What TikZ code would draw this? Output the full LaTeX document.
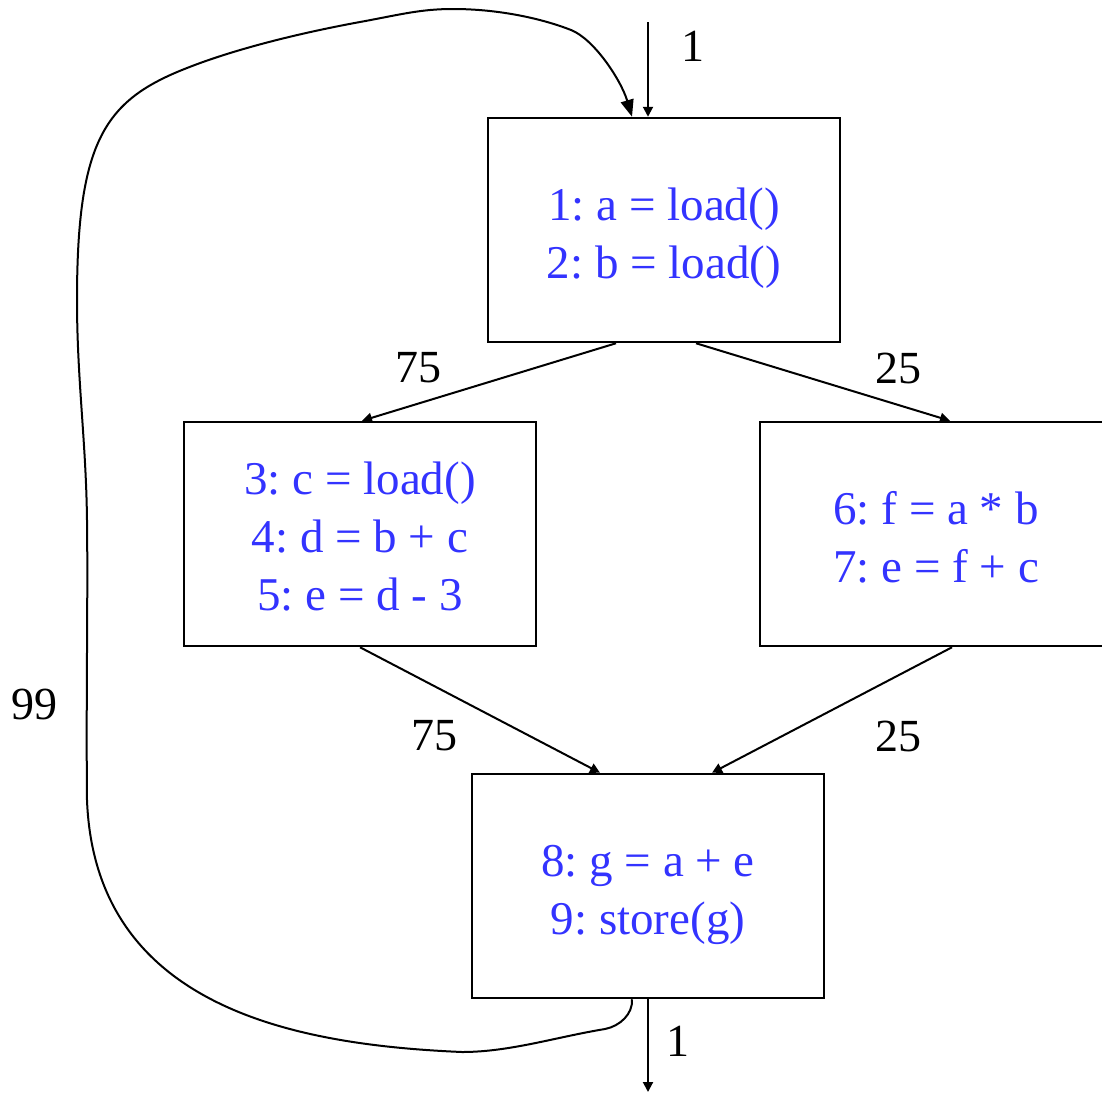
\documentclass[tikz,border=0pt]{standalone}
\usepackage{fontspec}
\setmainfont{Liberation Serif}
\usetikzlibrary{arrows.meta}
\definecolor{codeblue}{RGB}{51,51,255}
\frenchspacing
\begin{document}
\begin{tikzpicture}[x=1pt,y=-1pt,
  blk/.style={draw=black, line width=2.5pt, minimum width=352pt, minimum height=224pt,
    inner sep=0pt},
  code/.style={align=center, text=codeblue, inner sep=0pt,
    font=\fontsize{47}{58}\selectfont},
  lbl/.style={font=\fontsize{46}{50}\selectfont, inner sep=0pt},
  edge/.style={line width=2pt, -{Triangle[length=10pt,width=10pt]}},
  loopedge/.style={line width=2pt, -{Triangle[length=17pt,width=13pt]}}]
\useasboundingbox (0,0) rectangle (1102,1093);
\clip (0,0) rectangle (1102,1093);

\node[blk] (top) at (664,230) {};
\node[blk] (left) at (360,534) {};
\node[blk] (right) at (936,534) {};
\node[blk] (bot) at (648,886) {};

\node[code] (toptext) at ([yshift=-8pt]top.center) {1: a = load()\\2: b = load()};
\node[code] (lefttext) at ([yshift=-3pt]left.center) {3: c = load()\\4: d = b + c\\5: e = d - 3};
\node[code] (righttext) at ([yshift=-3pt]right.center) {6: f = a * b\\7: e = f + c};
\node[code] (bottext) at ([yshift=-9pt]bot.center) {8: g = a + e\\9: store(g)};

\coordinate (entry) at (648,22);
\coordinate (exit) at (648,1092);

\draw[edge] (entry) -- ([xshift=-16pt]top.north);
\draw[edge] ([xshift=-48pt]top.south) -- ([xshift=2pt]left.north);
\draw[edge] ([xshift=32pt]top.south) -- ([xshift=14pt]right.north);
\draw[edge] (left.south) -- ([xshift=-48pt]bot.north);
\draw[edge] ([xshift=16pt]right.south) -- ([xshift=64pt]bot.north);
\draw[edge] (bot.south) -- (exit);

\draw[loopedge] ([xshift=-16pt]bot.south)
  .. controls (633,1014) and (620,1026) .. (605,1029)
  .. controls (556,1037) and (510,1052) .. (462,1052)
  .. controls (300,1045) and (95,1010) .. (87,800)
  .. controls (86,700) and (88,600) .. (87,520)
  .. controls (86,440) and (77,380) .. (77,300)
  .. controls (77,140) and (105,100) .. (187,68)
  .. controls (235,49) and (300,33) .. (360,22)
  .. controls (400,14.7) and (420,9) .. (453,9)
  .. controls (500,9) and (543,19) .. (571,30)
  .. controls (594,39) and (621,80) .. ([xshift=-32pt]top.north);

\node[lbl] (l1) at (693,46) {1};
\node[lbl] (l75a) at (418,368) {75};
\node[lbl] (l25a) at (898,368) {25};
\node[lbl] (l75b) at (434,736) {75};
\node[lbl] (l25b) at (898,736) {25};
\node[lbl] (l99) at (35,704) {99};
\node[lbl] (l1b) at (678,1041) {1};
\end{tikzpicture}
\end{document}
